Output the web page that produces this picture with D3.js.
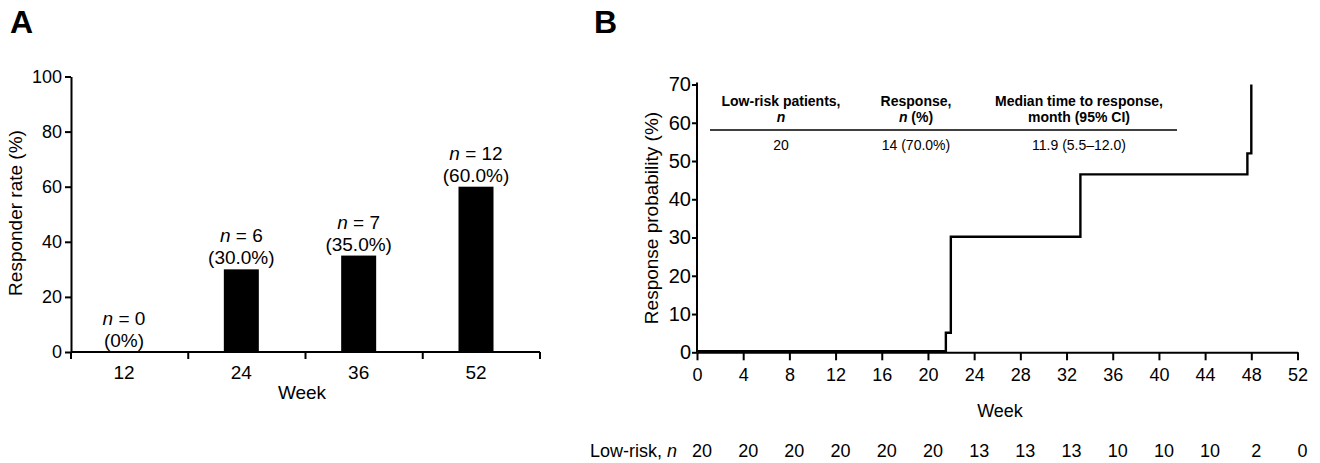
<!DOCTYPE html>
<html>
<head>
<meta charset="utf-8">
<script src="https://cdn.jsdelivr.net/npm/d3@7.9.0/dist/d3.min.js"></script>
<style>
  body { margin: 0; background: #fff; }
  svg { display: block; font-family: 'Liberation Sans', Arial, sans-serif; }
  .axis path, .axis line { stroke: #000; stroke-width: 2; }
</style>
</head>
<body>
<svg id="chart" width="1320" height="463"></svg>
<script>
// Panel A data
const weeksA = ['12', '24', '36', '52'];
const responderRate = [0, 30, 35, 60];
const responderN = [0, 6, 7, 12];
const rateLabels = ['(0%)', '(30.0%)', '(35.0%)', '(60.0%)'];
const yTicksA = [0, 20, 40, 60, 80, 100];

// Panel B data
const stepWeeks = [0, 21.55, 21.98, 33.2, 47.66, 48.0];
const stepProb = [0.3, 5.1, 30.2, 46.5, 52, 70];
const xTicksB = [0, 4, 8, 12, 16, 20, 24, 28, 32, 36, 40, 44, 48, 52];
const yTicksB = [0, 10, 20, 30, 40, 50, 60, 70];
const atRisk = [20, 20, 20, 20, 20, 20, 13, 13, 13, 10, 10, 10, 2, 0];
const tableHead = [['Low-risk patients,', 'n'], ['Response,', 'n (%)'], ['Median time to response,', 'month (95% CI)']];
const tableValues = ['20', '14 (70.0%)', '11.9 (5.5–12.0)'];

const svg = d3.select('#chart');

// panel letters
svg.append('text').attr('x', 10).attr('y', 33).attr('font-size', 32).attr('font-weight', 'bold').text('A');
svg.append('text').attr('x', 594).attr('y', 33).attr('font-size', 32).attr('font-weight', 'bold').text('B');

// ---------- Panel A ----------
const yA = d3.scaleLinear().domain([0, 100]).range([352, 76.5]);
const bandA = d3.scaleBand().domain(weeksA).range([71, 540]);
const xA = d3.scalePoint().domain(weeksA).range([124, 476]);
const gA = svg.append('g');

gA.selectAll('rect.bar')
    .data(weeksA)
    .join('rect')
    .attr('class', 'bar')
    .attr('x', (d) => xA(d) - 17.5)
    .attr('width', 35)
    .attr('y', (d, i) => yA(responderRate[i]))
    .attr('height', (d, i) => yA(0) - yA(responderRate[i]))
    .attr('fill', '#000');

const yAxisA = gA.append('g')
    .attr('class', 'axis')
    .attr('transform', 'translate(71,0)')
    .call(d3.axisLeft(yA).tickValues(yTicksA).tickSize(6).tickSizeOuter(0).tickPadding(3));
yAxisA.selectAll('text').attr('font-size', 18).attr('font-family', null).attr('fill', '#000');

// x axis line with separator ticks
const xAxisA = gA.append('g').attr('class', 'axis');
xAxisA.append('line').attr('x1', 71).attr('x2', bandA.range()[1]).attr('y1', yA(0)).attr('y2', yA(0));
xAxisA.selectAll('line.tick')
    .data([weeksA[0]].concat(weeksA))
    .join('line')
    .attr('class', 'tick')
    .attr('x1', (d, i) => (i === 0 ? 71 : bandA(d) + bandA.bandwidth()))
    .attr('x2', (d, i) => (i === 0 ? 71 : bandA(d) + bandA.bandwidth()))
    .attr('y1', yA(0))
    .attr('y2', yA(0) + 7);

gA.selectAll('text.xlab')
    .data(weeksA)
    .join('text')
    .attr('class', 'xlab')
    .attr('x', (d) => xA(d))
    .attr('y', 379)
    .attr('text-anchor', 'middle')
    .attr('font-size', 19)
    .text((d) => d);

gA.append('text').attr('x', 302).attr('y', 399).attr('text-anchor', 'middle').attr('font-size', 19).text('Week');
gA.append('text')
    .attr('transform', 'translate(22,213) rotate(-90)')
    .attr('text-anchor', 'middle')
    .attr('font-size', 19)
    .text('Responder rate (%)');

// value annotations
const ann = gA.selectAll('g.ann').data(weeksA).join('g').attr('class', 'ann');
ann.append('text')
    .attr('x', (d) => xA(d))
    .attr('y', (d, i) => yA(responderRate[i]) - 27)
    .attr('text-anchor', 'middle')
    .attr('font-size', 19)
    .each(function (d, i) {
        const t = d3.select(this);
        t.append('tspan').attr('font-style', 'italic').text('n');
        t.append('tspan').text(` = ${responderN[i]}`);
    });
ann.append('text')
    .attr('x', (d) => xA(d))
    .attr('y', (d, i) => yA(responderRate[i]) - 5)
    .attr('text-anchor', 'middle')
    .attr('font-size', 19)
    .text((d, i) => rateLabels[i]);

// ---------- Panel B ----------
const xB = d3.scaleLinear().domain([0, 52]).range([697, 1297.5]);
const yB = d3.scaleLinear().domain([0, 70]).range([352.3, 84.5]);
const gB = svg.append('g');

const yAxisB = gB.append('g')
    .attr('class', 'axis')
    .attr('transform', `translate(${xB(0)},0)`)
    .call(d3.axisLeft(yB).tickValues(yTicksB).tickSize(5).tickSizeOuter(0).tickPadding(1));
yAxisB.select('.domain').attr('d', `M0,${yB(70) - 2}V${yB(0)}`);
yAxisB.selectAll('text').attr('font-size', 20).attr('font-family', null).attr('fill', '#000');

const xAxisB = gB.append('g')
    .attr('class', 'axis')
    .attr('transform', `translate(0,${yB(0)})`)
    .call(d3.axisBottom(xB).tickValues(xTicksB).tickSize(8).tickSizeOuter(0).tickPadding(8));
xAxisB.selectAll('text').attr('font-size', 18).attr('font-family', null).attr('fill', '#000');

gB.append('text').attr('x', 1000).attr('y', 417).attr('text-anchor', 'middle').attr('font-size', 18).text('Week');
gB.append('text')
    .attr('transform', 'translate(658,218) rotate(-90)')
    .attr('text-anchor', 'middle')
    .attr('font-size', 19)
    .text('Response probability (%)');

const line = d3.line()
    .x((d, i) => xB(stepWeeks[i]))
    .y((d, i) => yB(stepProb[i]))
    .curve(d3.curveStepAfter);
gB.append('path')
    .attr('d', line(stepWeeks))
    .attr('fill', 'none')
    .attr('stroke', '#000')
    .attr('stroke-width', 2.4);

// at-risk row
gB.append('text').attr('x', 677).attr('y', 457).attr('text-anchor', 'end').attr('font-size', 18)
    .call((t) => {
        t.append('tspan').text('Low-risk, ');
        t.append('tspan').attr('font-style', 'italic').text('n');
    });
gB.selectAll('text.risk')
    .data(atRisk)
    .join('text')
    .attr('class', 'risk')
    .attr('x', (d, i) => xB(xTicksB[i]) + 5)
    .attr('y', 457)
    .attr('text-anchor', 'middle')
    .attr('font-size', 18)
    .text((d) => d);

// inset table
const colX = [781, 916, 1079];
const table = gB.append('g');
tableHead.forEach((lines, i) => {
    table.append('text').attr('x', colX[i]).attr('y', 106).attr('text-anchor', 'middle')
        .attr('font-size', 14).attr('font-weight', 'bold').text(lines[0]);
    const t2 = table.append('text').attr('x', colX[i]).attr('y', 122).attr('text-anchor', 'middle')
        .attr('font-size', 14).attr('font-weight', 'bold');
    const m = lines[1].match(/^n(.*)$/);
    if (m) {
        t2.append('tspan').attr('font-style', 'italic').text('n');
        t2.append('tspan').text(m[1]);
    } else {
        t2.text(lines[1]);
    }
    table.append('text').attr('x', colX[i]).attr('y', 150).attr('text-anchor', 'middle')
        .attr('font-size', 14).text(tableValues[i]);
});
table.append('line').attr('x1', 710).attr('x2', 1177).attr('y1', 130).attr('y2', 130)
    .attr('stroke', '#000').attr('stroke-width', 1.5);
</script>
</body>
</html>
